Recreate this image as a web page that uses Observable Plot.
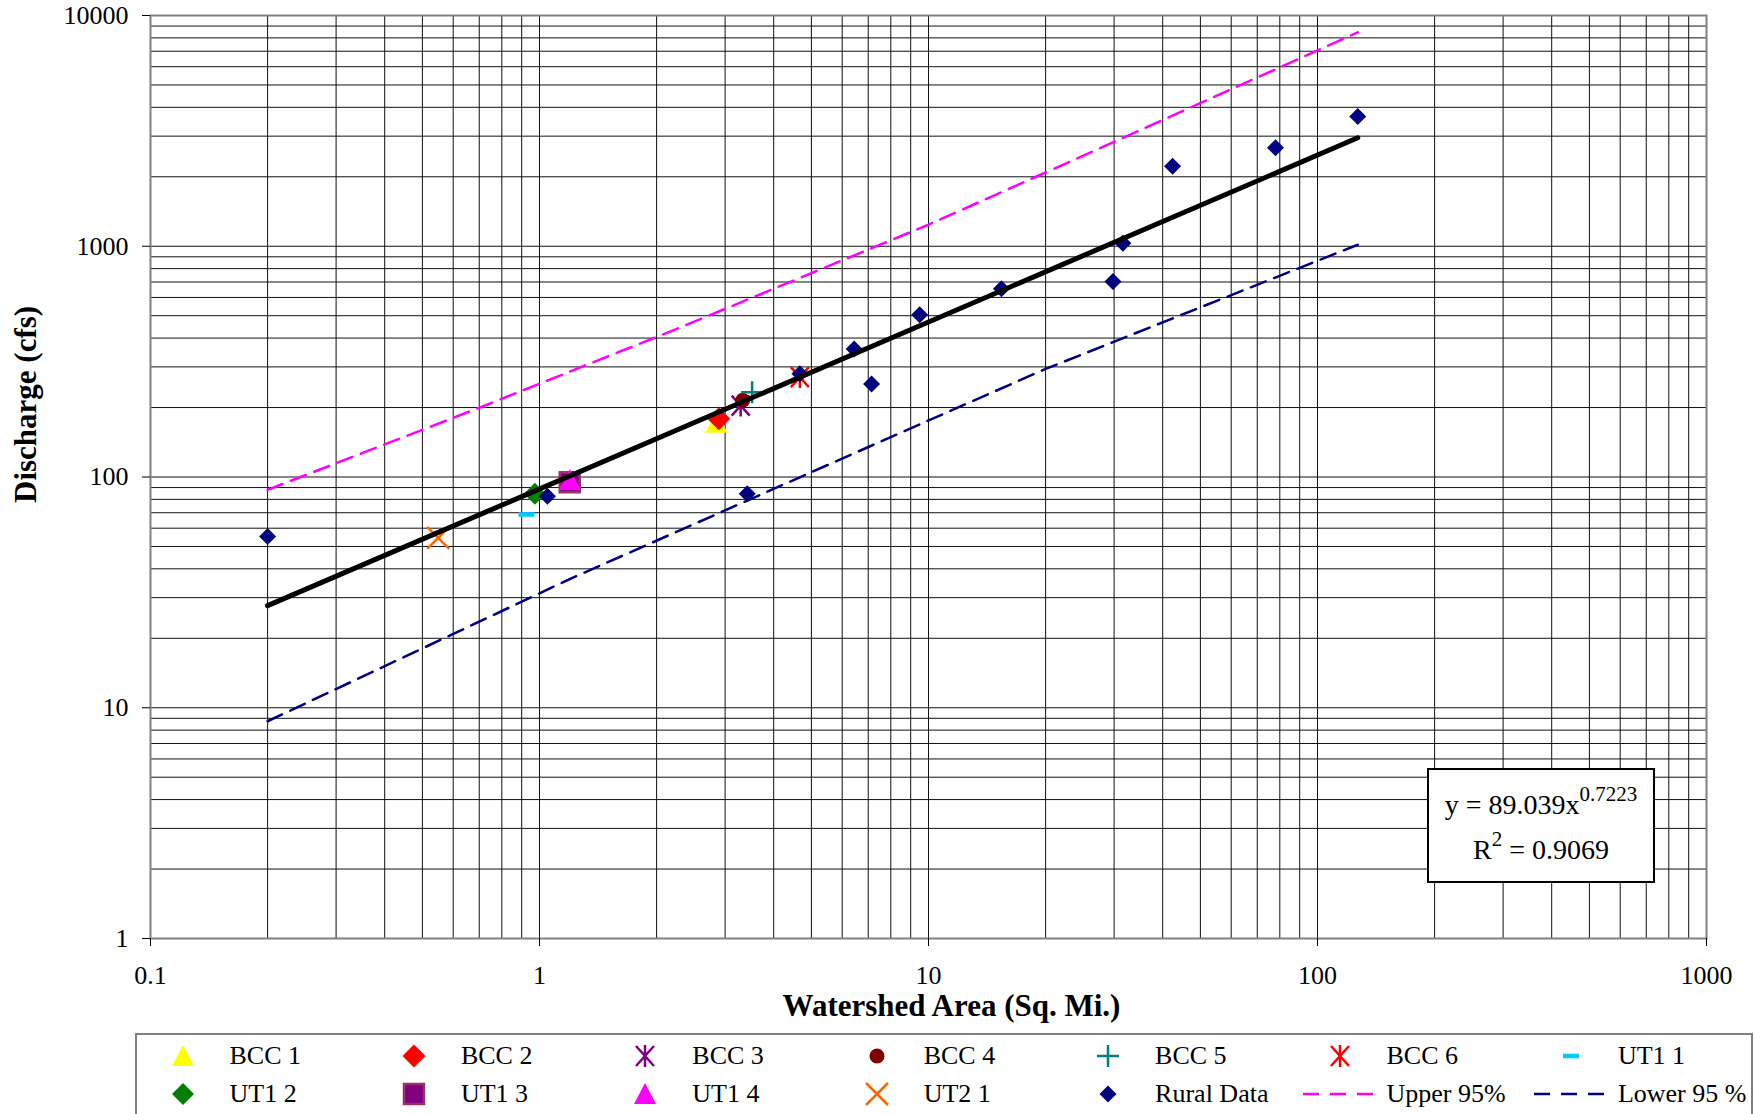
<!DOCTYPE html>
<html><head><meta charset="utf-8">
<script src="https://cdn.jsdelivr.net/npm/d3@7"></script>
<script src="https://cdn.jsdelivr.net/npm/@observablehq/plot@0.6"></script>
<style>
body{margin:0;background:#fff;}
#wrap{position:relative;width:1754px;height:1114px;overflow:hidden;font-family:"Liberation Serif","Times New Roman",serif;color:#000;}
#eq{position:absolute;left:1427px;top:768px;width:228px;height:115px;box-sizing:border-box;border:2.5px solid #000;background:#fff;font-size:28px;text-align:center;padding-top:12px;line-height:45px;}
#eq sup{font-size:21px;position:relative;top:-13px;vertical-align:baseline;line-height:0;}
#legend{position:absolute;left:135px;top:1033px;width:1618px;height:100px;box-sizing:border-box;border:2px solid #808080;background:#fff;}
.lt{position:absolute;font-size:26px;line-height:30px;white-space:nowrap;}
.ls{position:absolute;overflow:visible;}
</style></head>
<body><div id="wrap"></div>
<script>
// ---- data ----
const seriesNames = ["BCC 1","BCC 2","BCC 3","BCC 4","BCC 5","BCC 6","UT1 1","UT1 2","UT1 3","UT1 4","UT2 1"];
const seriesArea = [2.85, 2.89, 3.29, 3.33, 3.52, 4.67, 0.926, 0.973, 1.196, 1.196, 0.549];
const seriesDischarge = [172, 179, 204, 215, 233, 271, 68.8, 84.6, 95, 97, 54.5];

const ruralArea = [0.2, 1.048, 3.42, 4.67, 6.44, 7.14, 9.49, 15.4, 29.8, 31.6, 42.4, 78.0, 126.9];
const ruralDischarge = [55.2, 82.6, 84.6, 280, 359, 253, 505, 654, 703, 1031, 2223, 2671, 3650];

const trendArea = [0.2, 126.9];
const trendDischarge = [27.7, 2951];

const upperArea = [0.2, 0.7, 2.2, 10, 27.4, 126.9];
const upperDischarge = [88, 199.5, 431, 1240, 2644, 8450];

const lowerArea = [0.2, 1.2, 7.47, 20, 29.8, 126.9];
const lowerDischarge = [8.74, 36.2, 141.5, 294, 384, 1015];

const xTicks = [0.1, 1, 10, 100, 1000];
const xTickLabels = ["0.1", "1", "10", "100", "1000"];
const yTicks = [1, 10, 100, 1000, 10000];
const yTickLabels = ["1", "10", "100", "1000", "10000"];

const equationText = "y = 89.039x";
const equationExp = "0.7223";
const r2Value = "0.9069";

const xTitle = "Watershed Area (Sq. Mi.)";
const yTitle = "Discharge (cfs)";

// ---- symbols (Excel-like markers) ----
function poly(pts){ return {draw(c){ c.moveTo(pts[0][0], pts[0][1]); for (const p of pts.slice(1)) c.lineTo(p[0], p[1]); c.closePath(); }}; }
const symTri = poly([[0,-11],[11,10],[-11,10]]);
const symDia = h => poly([[0,-h],[h,0],[0,h],[-h,0]]);
const symSquare = poly([[-10,-10],[10,-10],[10,10],[-10,10]]);
const symDash = poly([[-8,-2.3],[8,-2.3],[8,2.3],[-8,2.3]]);
const symCircle = {draw(c){ c.moveTo(7.5,0); c.arc(0,0,7.5,0,2*Math.PI); }};
const symStar = {draw(c){ c.moveTo(0,-11); c.lineTo(0,11); c.moveTo(-9,-10); c.lineTo(9,10); c.moveTo(-9,10); c.lineTo(9,-10); }};
const symPlus = {draw(c){ c.moveTo(-11,0); c.lineTo(11,0); c.moveTo(0,-11); c.lineTo(0,11); }};
const symX = {draw(c){ c.moveTo(-11,-11); c.lineTo(11,11); c.moveTo(-11,11); c.lineTo(11,-11); }};

const styles = {
  "BCC 1": {symbol: symTri, fill: "#FFFF00", stroke: "none"},
  "BCC 2": {symbol: symDia(11.5), fill: "#FF0000", stroke: "none"},
  "BCC 3": {symbol: symStar, fill: "none", stroke: "#800080", sw: 2.5},
  "BCC 4": {symbol: symCircle, fill: "#800000", stroke: "none"},
  "BCC 5": {symbol: symPlus, fill: "none", stroke: "#008080", sw: 2.5},
  "BCC 6": {symbol: symStar, fill: "none", stroke: "#FF0000", sw: 2.5},
  "UT1 1": {symbol: symDash, fill: "#00CCFF", stroke: "none"},
  "UT1 2": {symbol: symDia(11), fill: "#008000", stroke: "none"},
  "UT1 3": {symbol: symSquare, fill: "#800080", stroke: "#993366", sw: 2.5},
  "UT1 4": {symbol: symTri, fill: "#FF00FF", stroke: "none"},
  "UT2 1": {symbol: symX, fill: "none", stroke: "#FF6600", sw: 2.5},
  "Rural Data": {symbol: symDia(8.5), fill: "#000080", stroke: "none"}
};
const upperStyle = {stroke: "#FF00FF", strokeWidth: 2.5, dash: "16,9"};
const lowerStyle = {stroke: "#000080", strokeWidth: 2.5, dash: "16,9"};

// ---- tables ----
const points = seriesNames.map((name, i) => ({name, area: seriesArea[i], q: seriesDischarge[i]}));
const rural = ruralArea.map((a, i) => ({area: a, q: ruralDischarge[i]}));
const trend = trendArea.map((a, i) => ({area: a, q: trendDischarge[i]}));
const upper = upperArea.map((a, i) => ({area: a, q: upperDischarge[i]}));
const lower = lowerArea.map((a, i) => ({area: a, q: lowerDischarge[i]}));

const xGrid = d3.scaleLog().domain([0.1, 1000]).ticks();
const yGrid = d3.scaleLog().domain([1, 10000]).ticks();

const dotMarks = seriesNames.map(n => {
  const s = styles[n];
  return Plot.dot(points.filter(p => p.name === n), {x: "area", y: "q", symbol: s.symbol, fill: s.fill, stroke: s.stroke, strokeWidth: s.sw || 1});
});
const rs = styles["Rural Data"];

const chart = Plot.plot({
  width: 1754, height: 1033,
  marginLeft: 150, marginRight: 48, marginTop: 15, marginBottom: 95,
  style: {fontFamily: "'Liberation Serif', 'Times New Roman', serif", fontSize: "26px", background: "#fff", color: "#000"},
  x: {type: "log", domain: [0.1, 1000]},
  y: {type: "log", domain: [1, 10000]},
  marks: [
    Plot.ruleX(xGrid, {stroke: "#111", strokeWidth: 1}),
    Plot.ruleY(yGrid, {stroke: "#111", strokeWidth: 1}),
    Plot.frame({stroke: "#808080", strokeWidth: 2}),
    ...dotMarks,
    Plot.dot(rural, {x: "area", y: "q", symbol: rs.symbol, fill: rs.fill, stroke: "none"}),
    Plot.line(upper, {x: "area", y: "q", stroke: upperStyle.stroke, strokeWidth: upperStyle.strokeWidth, strokeDasharray: upperStyle.dash}),
    Plot.line(lower, {x: "area", y: "q", stroke: lowerStyle.stroke, strokeWidth: lowerStyle.strokeWidth, strokeDasharray: lowerStyle.dash}),
    Plot.line(trend, {x: "area", y: "q", stroke: "#000", strokeWidth: 5, strokeLinecap: "round"}),
    Plot.axisX(xTicks, {tickSize: 8, tickPadding: 19, tickFormat: d => xTickLabels[xTicks.indexOf(d)], fontSize: 26, label: null}),
    Plot.axisY(yTicks, {tickSize: 8, tickPadding: 14, tickFormat: d => yTickLabels[yTicks.indexOf(d)], fontSize: 26, label: null}),
    Plot.text([xTitle], {frameAnchor: "bottom", dx: 23, dy: 77, fontWeight: "bold", fontSize: 31}),
    Plot.text([yTitle], {frameAnchor: "left", dx: -124, dy: 26, rotate: -90, fontWeight: "bold", fontSize: 31})
  ]
});

const wrap = document.getElementById("wrap");
wrap.appendChild(chart);

// ---- equation box ----
const eq = document.createElement("div");
eq.id = "eq";
eq.innerHTML = `<div>${equationText}<sup>${equationExp}</sup></div><div>R<sup>2</sup> = ${r2Value}</div>`;
wrap.appendChild(eq);

// ---- legend ----
const legend = document.createElement("div");
legend.id = "legend";
wrap.appendChild(legend);
const legendItems = [...seriesNames, "Rural Data", "Upper 95%", "Lower 95 %"];
const ns = "http://www.w3.org/2000/svg";
legendItems.forEach((name, i) => {
  const row = Math.floor(i / 7), col = i % 7;
  const cx = 182.5 + 231.4 * col - 137;
  const cy = 1056 + 38 * row - 1035;
  const svg = document.createElementNS(ns, "svg");
  svg.setAttribute("class", "ls");
  if (styles[name]) {
    svg.setAttribute("width", 30); svg.setAttribute("height", 30);
    svg.setAttribute("viewBox", "-15 -15 30 30");
    svg.style.left = (cx - 15) + "px"; svg.style.top = (cy - 15) + "px";
    const s = styles[name];
    const p = d3.path(); s.symbol.draw(p);
    const path = document.createElementNS(ns, "path");
    path.setAttribute("d", p.toString());
    path.setAttribute("fill", s.fill);
    path.setAttribute("stroke", s.stroke);
    path.setAttribute("stroke-width", s.sw || 1);
    svg.appendChild(path);
  } else {
    const st = name.startsWith("Upper") ? upperStyle : lowerStyle;
    svg.setAttribute("width", 80); svg.setAttribute("height", 10);
    svg.style.left = (cx - 40) + "px"; svg.style.top = (cy - 5) + "px";
    const l = document.createElementNS(ns, "line");
    l.setAttribute("x1", 3); l.setAttribute("x2", 77); l.setAttribute("y1", 5); l.setAttribute("y2", 5);
    l.setAttribute("stroke", st.stroke); l.setAttribute("stroke-width", st.strokeWidth);
    l.setAttribute("stroke-dasharray", "16,11");
    svg.appendChild(l);
  }
  legend.appendChild(svg);
  const t = document.createElement("div");
  t.className = "lt";
  t.textContent = name;
  t.style.left = (cx + 47) + "px";
  t.style.top = (cy - 15) + "px";
  legend.appendChild(t);
});
</script></body></html>
